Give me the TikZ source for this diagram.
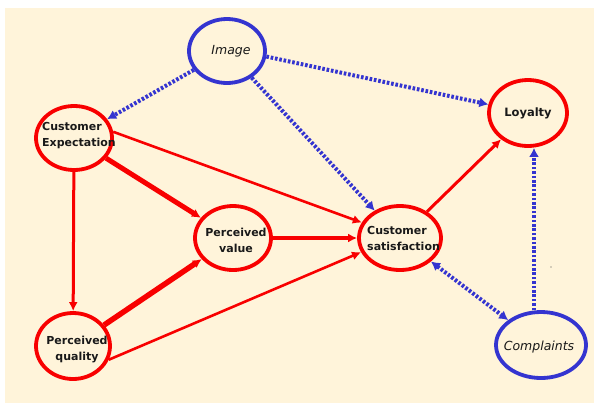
\documentclass[tikz,border=0pt]{standalone}
\usepackage{fontspec}
\setmainfont{DejaVu Sans}
\usetikzlibrary{shapes.geometric,arrows.meta}
\definecolor{cream}{HTML}{FFF4DA}
\definecolor{rred}{HTML}{F80000}
\definecolor{bblue}{HTML}{3434D0}
\tikzset{
  rring/.style={ellipse,draw=rred,line width=3.8pt,inner sep=0pt},
  bring/.style={ellipse,draw=bblue,line width=3.8pt,inner sep=0pt},
  lbl/.style={font=\fontsize{11}{16}\selectfont\bfseries,inner sep=0pt,text=black!90},
  ilbl/.style={font=\fontsize{12.5}{15}\selectfont\itshape,inner sep=0pt,text=black!90},
  rarr/.style={draw=rred,-{Latex[length=9pt,width=9pt]},fill=rred},
  barr/.style={draw=bblue,line width=4pt,dash pattern=on 2.6pt off 1.8pt,-{Latex[length=9pt,width=10pt]}},
  bbarr/.style={draw=bblue,line width=4pt,dash pattern=on 2.6pt off 1.8pt,{Latex[length=9pt,width=10pt]}-{Latex[length=9pt,width=10pt]}},
}
\begin{document}
\begin{tikzpicture}[x=1pt,y=-1pt]
\useasboundingbox (0,0) rectangle (594,408);
\fill[white] (0,0) rectangle (594,408);
\fill[cream] (5,8) rectangle (594,403);
% nodes
\node[bring,minimum width=76pt,minimum height=64pt] (img) at (227,51) {};
\node[rring,minimum width=76pt,minimum height=64pt] (ce) at (74,138) {};
\node[rring,minimum width=76pt,minimum height=64pt] (pv) at (233,238) {};
\node[rring,minimum width=82pt,minimum height=64pt] (cs) at (400,238) {};
\node[rring,minimum width=78pt,minimum height=66pt] (loy) at (528,113) {};
\node[bring,minimum width=90pt,minimum height=66pt] (comp) at (541,345) {};
\node[rring,minimum width=74pt,minimum height=66pt] (pq) at (73,346) {};
% labels
\node[ilbl] (imgt) at (231,51) {Image};
\node[lbl,align=left,anchor=west] (cet) at (42,136) {Customer\\Expectation};
\node[lbl,align=center] (pvt) at (236,240) {Perceived\\value};
\node[lbl,align=left,anchor=west] (cst) at (367,238) {Customer\\satisfaction};
\node[lbl,font=\fontsize{11.5}{14}\selectfont\bfseries] (loyt) at (528,113) {Loyalty};
\node[ilbl] (compt) at (539,347) {Complaints};
\node[lbl,align=center] (pqt) at (77,349) {Perceived\\quality};
% red arrows
\draw[rarr,line width=3pt] (ce) -- (pq);
\draw[rarr,line width=5pt] (ce) -- (pv);
\draw[rarr,line width=2.6pt] (ce.9) -- (cs.158);
\draw[rarr,line width=3.6pt] (pv) -- (cs);
\draw[rarr,line width=5.5pt] (pq) -- (pv);
\draw[rarr,line width=2.6pt] (pq.-21) -- (cs.200);
\draw[rarr,line width=3pt] (cs) -- (loy);
% blue dotted arrows
\draw[barr] (img) -- (ce);
\draw[barr] (img.-8) -- (loy);
\draw[barr] (img) -- (cs);
\draw[bbarr] (cs) -- (comp);
\draw[barr] ([xshift=-7pt]comp.north) -- ([xshift=6pt]loy.south);
% stray dot
\fill[black!70] (551,267) circle (0.7pt);
\end{tikzpicture}
\end{document}
